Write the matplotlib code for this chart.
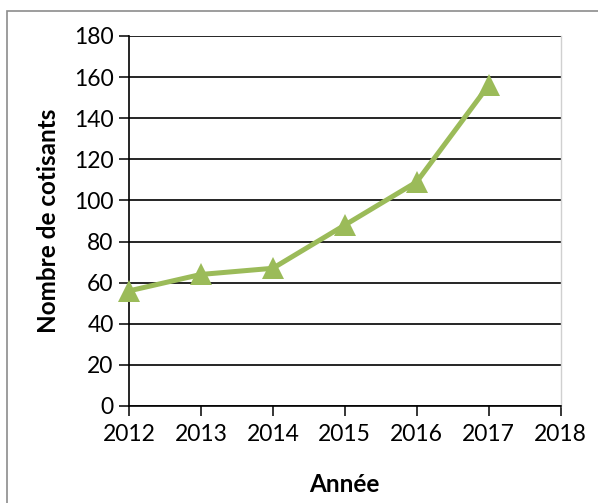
import matplotlib
matplotlib.use("Agg")
import matplotlib.pyplot as plt
from matplotlib.patches import Rectangle

# data
years = [2012, 2013, 2014, 2015, 2016, 2017]
cotisants = [56, 64, 67, 88, 109, 156]
x_ticks = [2012, 2013, 2014, 2015, 2016, 2017, 2018]
y_ticks = [0, 20, 40, 60, 80, 100, 120, 140, 160, 180]

GREEN = "#9BBB59"

plt.rcParams["font.family"] = ["Lato", "DejaVu Sans"]

fig = plt.figure(figsize=(5.98, 5.03), dpi=100)
ax = fig.add_axes([129 / 598, 1 - 406 / 503, (560.5 - 129) / 598, (406 - 36) / 503])

ax.plot(years, cotisants, color=GREEN, linewidth=3.6, marker="^",
        markersize=16.5, markeredgewidth=0, zorder=3, clip_on=False)

ax.set_xlim(2012, 2018)
ax.set_ylim(0, 180)
ax.set_xticks(x_ticks)
ax.set_yticks(y_ticks)
ax.tick_params(axis="both", labelsize=16.5, length=7, width=1.1, color="black", pad=4)
ax.tick_params(axis="x", pad=6)
ax.yaxis.grid(True, color="black", linewidth=1.2)
ax.set_axisbelow(True)

for side in ("left", "bottom"):
    ax.spines[side].set_color("black")
    ax.spines[side].set_linewidth(1.2)
ax.spines["top"].set_visible(False)
ax.spines["right"].set_color("#D0D0D0")
ax.spines["right"].set_linewidth(1.0)

ax.set_xlabel("Année", fontsize=17.5, fontweight="bold", labelpad=20)
ax.set_ylabel("Nombre de cotisants", fontsize=17.5, fontweight="bold", labelpad=10)

# outer chart frame (cropped on the right and bottom)
fig.patches.append(Rectangle((7 / 598, -0.1), 1.2, 1 - 11 / 503 + 0.1,
                             transform=fig.transFigure, fill=False,
                             edgecolor="#8C8C8C", linewidth=1.2))

fig.savefig("out.png", dpi=100)
